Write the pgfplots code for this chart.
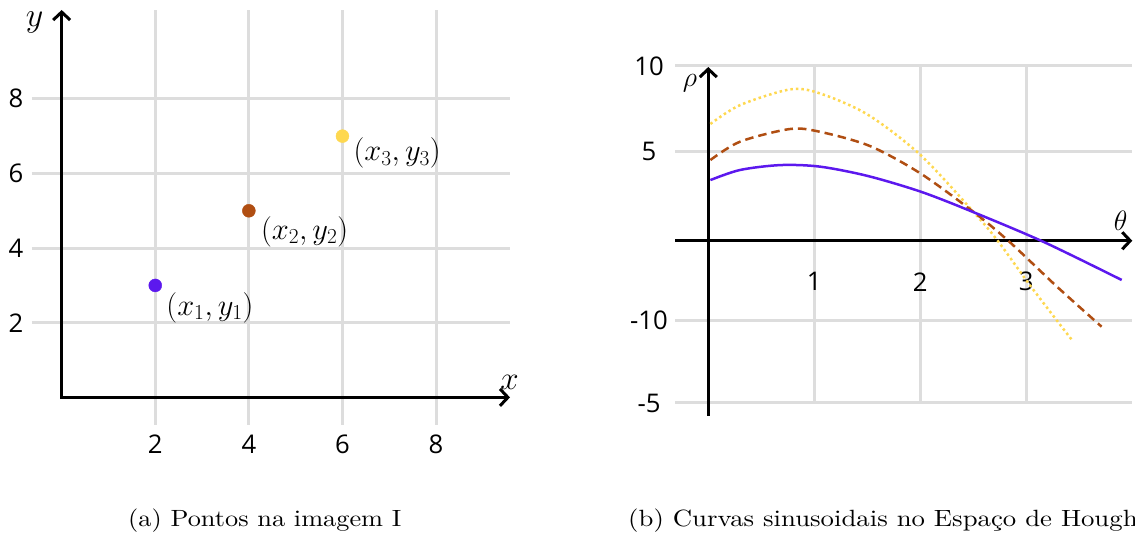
\RequirePackage{fix-cm}
\documentclass[border=0pt]{standalone}
\usepackage{pgfplots}
\pgfplotsset{compat=1.18}
\usepackage{fontspec}
\newfontfamily\tickfont{Open Sans}
\newfontfamily\capfont{lmroman10-regular.otf}
\usetikzlibrary{arrows.meta}
\definecolor{cpurple}{RGB}{92,24,238}
\definecolor{cbrown}{RGB}{176,78,18}
\definecolor{cyellow}{RGB}{254,216,80}
\definecolor{cgrid}{RGB}{221,221,221}
\tikzset{barb/.style={line width=3pt, line join=miter}}
\pgfplotsset{
  myax/.style={scale only axis, axis line style={draw=none}, major tick length=0pt,
    tick style={draw=none}, grid=major, grid style={cgrid, line width=3pt},
    tick label style={font=\fontsize{25.7}{30}\tickfont, /pgf/number format/assume math mode=true},
    clip=false},
}
\begin{document}
\begin{tikzpicture}[x=1pt,y=1pt]
\useasboundingbox (0,0) rectangle (1135,538);
\clip (0,0) rectangle (1135,538);
% ---------- left plot ----------
\begin{axis}[myax, at={(31.7pt,113pt)}, anchor=south west, width=478.3pt, height=415pt,
  xmin=-0.64, xmax=9.58, ymin=-0.74, ymax=10.38,
  xtick={2,4,6,8}, ytick={2,4,6,8}, xticklabels={2,4,6,8}, yticklabels={2,4,6,8},
  xticklabel style={anchor=center, yshift=-19pt},
  yticklabel style={anchor=center, xshift=-15.7pt}]
\draw[barb, {Straight Barb[length=8pt,width=17pt]}-{Straight Barb[length=8pt,width=17pt]}]
  (axis cs:0,10.38) -- (axis cs:0,0) -- (axis cs:9.58,0);
\addplot[only marks, mark=*, mark size=6.5pt, cpurple] coordinates {(2,3)};
\addplot[only marks, mark=*, mark size=6.5pt, cbrown] coordinates {(4,5)};
\addplot[only marks, mark=*, mark size=6.5pt, cyellow] coordinates {(6,7)};
\node[anchor=west, inner sep=0pt, font=\fontsize{30.5}{32}\selectfont, xshift=11pt, yshift=-22pt] at (axis cs:2,3) {$(x_1,y_1)$};
\node[anchor=west, inner sep=0pt, font=\fontsize{30.5}{32}\selectfont, xshift=12pt, yshift=-21pt] at (axis cs:4,5) {$(x_2,y_2)$};
\node[anchor=west, inner sep=0pt, font=\fontsize{30.5}{32}\selectfont, xshift=11pt, yshift=-17pt] at (axis cs:6,7) {$(x_3,y_3)$};
\node[inner sep=0pt, anchor=base, font=\fontsize{34}{36}\selectfont] at (axis cs:-0.58,9.93) {$y$};
\node[inner sep=0pt, anchor=base, font=\fontsize{33}{36}\selectfont] at (axis cs:9.57,0.20) {$x$};
\end{axis}
% ---------- right plot ----------
\begin{axis}[myax, at={(675pt,135pt)}, anchor=south west, width=457.3pt, height=337pt,
  xmin=-0.314, xmax=4.0, ymin=-9.63, ymax=10.37,
  xtick={1,2,3}, xticklabels={1,2,3},
  ytick={-9.63,-4.75,5.28,10.37}, yticklabels={-5,-10,5,10},
  xticklabel style={anchor=center, yshift=121.3pt},
  yticklabel style={anchor=center, xshift=-26pt}]
\draw[barb, -{Straight Barb[length=8pt,width=17pt]}] (axis cs:-0.314,0) -- (axis cs:4.0,0);
\draw[barb, -{Straight Barb[length=8pt,width=17pt]}] (axis cs:0,-10.4) -- (axis cs:0,10.31);
\addplot[cyellow, line width=2.5pt, dash pattern=on 2.5pt off 3pt, smooth] coordinates {
 (0.02,6.93) (0.30,8.05) (0.77,8.98) (1.05,8.75) (1.5,7.5) (2.0,5.1) (2.5,1.72)
 (2.73,0.0) (3.045,-2.73) (3.43,-5.89)};
\addplot[cbrown, line width=2.5pt, dash pattern=on 8.5pt off 5pt, smooth] coordinates {
 (0.02,4.79) (0.30,5.88) (0.77,6.63) (1.05,6.47) (1.525,5.62) (2.0,4.0) (2.5,1.72)
 (2.84,-0.06) (3.29,-2.73) (3.71,-5.10)};
\addplot[cpurple, line width=2.5pt, smooth] coordinates {
 (0.02,3.60) (0.30,4.20) (0.68,4.49) (1.05,4.40) (1.5,3.85) (2.0,2.92) (2.48,1.75)
 (3.16,-0.06) (3.90,-2.33)};
\node[inner sep=0pt, anchor=base, font=\fontsize{28}{30}\selectfont] at (axis cs:-0.173,9.13) {$\rho$};
\node[inner sep=0pt, anchor=base, font=\fontsize{28}{30}\selectfont] at (axis cs:3.89,0.63) {$\theta$};
\end{axis}
% ---------- captions ----------
\node[inner sep=0pt, anchor=base west, font=\fontsize{23.5}{28}\capfont] at (128,11.3) {\scalebox{1.12}[1]{(a) Pontos na imagem I}};
\node[inner sep=0pt, anchor=base west, font=\fontsize{23.5}{28}\capfont] at (628,11.3) {\scalebox{1.14}[1]{(b) Curvas sinusoidais no Espaço de Hough}};
\end{tikzpicture}
\end{document}
